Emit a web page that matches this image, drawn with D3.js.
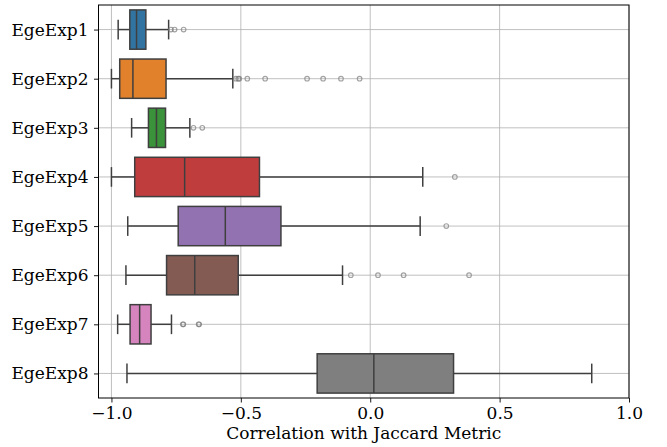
<!DOCTYPE html>
<html><head><meta charset="utf-8">
<script src="https://cdn.jsdelivr.net/npm/d3@7"></script>
<style>body{margin:0;background:#fff}svg{display:block}text{font-family:"DejaVu Serif",serif;}</style>
</head><body><div id="chart"></div>
<script>
const categories = ["EgeExp1","EgeExp2","EgeExp3","EgeExp4","EgeExp5","EgeExp6","EgeExp7","EgeExp8"];
const colors = ["#3274a1","#e1812c","#3a923a","#c03d3e","#9372b2","#845b53","#d684bd","#7f7f7f"];
const whiskerLow = [-0.974,-1.0,-0.922,-1.0,-0.937,-0.944,-0.976,-0.940];
const q1 =        [-0.929,-0.968,-0.857,-0.910,-0.742,-0.787,-0.928,-0.205];
const median =    [-0.903,-0.917,-0.826,-0.717,-0.560,-0.678,-0.891,0.014];
const q3 =        [-0.867,-0.789,-0.791,-0.428,-0.345,-0.510,-0.847,0.322];
const whiskerHigh=[-0.779,-0.531,-0.697,0.203,0.193,-0.107,-0.768,0.856];
const outliers = [
  [-0.770,-0.756,-0.721],
  [-0.519,-0.510,-0.506,-0.475,-0.406,-0.244,-0.182,-0.113,-0.041],
  [-0.683,-0.649],
  [0.327],
  [0.294],
  [-0.075,0.030,0.129,0.382],
  [-0.724,-0.722,-0.663,-0.661],
  []
];
const xTicks = [-1.0,-0.5,0.0,0.5,1.0];
const xTitle = "Correlation with Jaccard Metric";

const W=667,H=447;
const m={left:98.5,right:38,top:5,bottom:49};
const FS=17;
const svg=d3.select("#chart").append("svg").attr("width",W).attr("height",H);
const x=d3.scaleLinear().domain([-1.05,1.0]).range([m.left,W-m.right]);
const y=d3.scalePoint().domain(categories).range([m.top,H-m.bottom]).padding(0.5);
const step=y.step(), bh=step*0.8, cap=bh*0.5;
const lc="#3f3f3f";

// grid
const g=svg.append("g");
g.selectAll(".gx").data(xTicks).join("line").attr("x1",d=>x(d)).attr("x2",d=>x(d))
 .attr("y1",m.top).attr("y2",H-m.bottom).attr("stroke","#b0b0b0").attr("stroke-width",0.8);
g.selectAll(".gy").data(categories).join("line").attr("y1",d=>y(d)).attr("y2",d=>y(d))
 .attr("x1",m.left).attr("x2",W-m.right).attr("stroke","#b0b0b0").attr("stroke-width",0.8);

// boxes
categories.forEach((c,i)=>{
  const cy=y(c);
  const b=svg.append("g");
  b.append("line").attr("x1",x(whiskerLow[i])).attr("x2",x(q1[i])).attr("y1",cy).attr("y2",cy).attr("stroke",lc).attr("stroke-width",1.5);
  b.append("line").attr("x1",x(q3[i])).attr("x2",x(whiskerHigh[i])).attr("y1",cy).attr("y2",cy).attr("stroke",lc).attr("stroke-width",1.5);
  [whiskerLow[i],whiskerHigh[i]].forEach(v=>b.append("line").attr("x1",x(v)).attr("x2",x(v)).attr("y1",cy-cap/2).attr("y2",cy+cap/2).attr("stroke",lc).attr("stroke-width",1.5));
  b.append("rect").attr("x",x(q1[i])).attr("width",x(q3[i])-x(q1[i])).attr("y",cy-bh/2).attr("height",bh)
   .attr("fill",colors[i]).attr("stroke",lc).attr("stroke-width",1.5);
  b.append("line").attr("x1",x(median[i])).attr("x2",x(median[i])).attr("y1",cy-bh/2).attr("y2",cy+bh/2).attr("stroke",lc).attr("stroke-width",1.5);
  b.selectAll("circle").data(outliers[i]).join("circle").attr("cx",d=>x(d)).attr("cy",cy).attr("r",2.3)
   .attr("fill","none").attr("stroke","#7a7a7a").attr("stroke-opacity",0.7).attr("stroke-width",1.1);
});

// axes
const xa=svg.append("g").attr("transform",`translate(0,${H-m.bottom})`)
  .call(d3.axisBottom(x).tickValues(xTicks).tickFormat(d=>d3.format(".1f")(d).replace("-","\u2212")).tickSize(4.5).tickPadding(4));
xa.select(".domain").remove();
xa.selectAll("line").attr("stroke","#000").attr("stroke-width",0.9);
xa.selectAll("text").attr("font-size",FS).attr("fill","#000").attr("font-family","DejaVu Serif");
const ya=svg.append("g").attr("transform",`translate(${m.left},0)`)
  .call(d3.axisLeft(y).tickSize(4.5).tickPadding(5.5));
ya.select(".domain").remove();
ya.selectAll("line").attr("stroke","#000").attr("stroke-width",0.9);
ya.selectAll("text").attr("font-size",FS).attr("fill","#000").attr("font-family","DejaVu Serif");

svg.append("rect").attr("x",m.left).attr("y",m.top).attr("width",W-m.right-m.left).attr("height",H-m.bottom-m.top)
  .attr("fill","none").attr("stroke","#000").attr("stroke-width",1);

svg.append("text").attr("x",(m.left+W-m.right)/2).attr("y",438.5).attr("text-anchor","middle")
  .attr("font-size",FS).attr("fill","#000").text(xTitle);
</script></body></html>
